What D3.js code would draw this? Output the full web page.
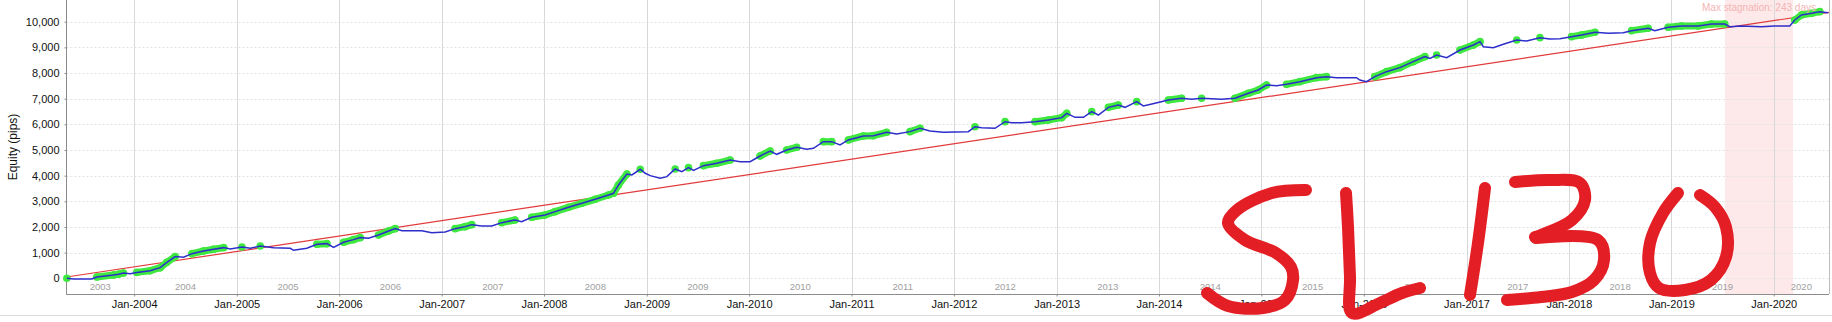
<!DOCTYPE html>
<html><head><meta charset="utf-8">
<script src="https://cdn.jsdelivr.net/npm/d3@7"></script>
<style>html,body{margin:0;padding:0;background:#fff;}svg{display:block;font-family:"Liberation Sans",Arial,sans-serif;}</style>
</head><body>
<svg id="c" width="1832" height="322"></svg>
<script>
// ---- data ----
const startDate = "2003-05-05";
const endDate = "2020-07-16";
const years = [2003.343,2003.408,2003.587,2003.636,2003.798,2003.847,2003.896,2003.961,2004.026,2004.156,2004.254,2004.319,2004.400,2004.481,2004.563,2004.676,2004.774,2004.872,2004.937,2005.050,2005.132,2005.229,2005.359,2005.522,2005.554,2005.684,2005.782,2005.880,2005.945,2006.042,2006.140,2006.205,2006.286,2006.384,2006.482,2006.547,2006.612,2006.807,2006.904,2007.035,2007.132,2007.230,2007.295,2007.392,2007.490,2007.587,2007.717,2007.782,2007.880,2008.010,2008.108,2008.238,2008.368,2008.498,2008.628,2008.677,2008.725,2008.807,2008.856,2008.937,2008.986,2009.034,2009.132,2009.197,2009.278,2009.343,2009.408,2009.457,2009.554,2009.684,2009.815,2009.912,2010.010,2010.107,2010.205,2010.270,2010.367,2010.465,2010.563,2010.628,2010.725,2010.807,2010.888,2010.969,2011.115,2011.213,2011.343,2011.441,2011.571,2011.669,2011.766,2011.896,2012.010,2012.140,2012.205,2012.270,2012.400,2012.498,2012.563,2012.660,2012.790,2012.920,2013.050,2013.099,2013.180,2013.262,2013.343,2013.408,2013.506,2013.603,2013.668,2013.782,2013.847,2013.961,2014.091,2014.221,2014.319,2014.416,2014.611,2014.741,2014.872,2014.969,2015.050,2015.148,2015.245,2015.376,2015.538,2015.636,2015.733,2015.929,2015.961,2016.026,2016.107,2016.221,2016.351,2016.481,2016.595,2016.644,2016.709,2016.807,2016.937,2017.067,2017.132,2017.164,2017.262,2017.359,2017.490,2017.587,2017.717,2017.815,2017.912,2018.026,2018.124,2018.254,2018.384,2018.530,2018.612,2018.774,2018.839,2018.969,2019.099,2019.262,2019.392,2019.522,2019.571,2019.684,2019.879,2020.010,2020.156,2020.205,2020.270,2020.368,2020.449,2020.530];
const equity = [0,-27,-27,50,130,160,207,180,230,297,414,622,845,818,960,1064,1130,1195,1143,1221,1169,1260,1195,1169,1091,1169,1325,1351,1208,1403,1507,1585,1558,1688,1844,1935,1857,1857,1779,1805,1935,2013,2091,2039,2039,2169,2273,2208,2377,2468,2598,2767,2923,3079,3248,3313,3638,4066,4027,4248,4092,4000,3896,3961,4260,4156,4312,4208,4390,4481,4611,4546,4546,4767,4962,4832,5001,5105,5027,5066,5326,5326,5196,5391,5547,5560,5690,5625,5716,5846,5742,5690,5700,5714,5909,5870,5844,6104,6065,6065,6104,6169,6260,6429,6273,6273,6494,6364,6663,6754,6663,6884,6715,6819,6949,7014,6975,7014,6975,7014,7209,7339,7533,7507,7559,7663,7819,7858,7819,7819,7728,7663,7858,8053,8209,8442,8637,8572,8702,8598,8897,9092,9222,9027,8988,9118,9287,9248,9378,9326,9340,9417,9482,9586,9547,9573,9651,9742,9651,9781,9833,9833,9911,9911,9807,9833,9807,9833,9833,10067,10262,10327,10392,10353];
const trendValues = [50, 10365];
const yTicks = [0,1000,2000,3000,4000,5000,6000,7000,8000,9000,10000];
const xTickYears = [2004,2005,2006,2007,2008,2009,2010,2011,2012,2013,2014,2015,2016,2017,2018,2019,2020];
const yearLabels = [2003,2004,2005,2006,2007,2008,2009,2010,2011,2012,2013,2014,2015,2016,2017,2018,2019,2020];
const stagnationStart = "2019-07-11";
const stagnationDays = 243;
const yTitle = "Equity (pips)";

// ---- helpers ----
const parse = d3.timeParse("%Y-%m-%d");
function decToDate(y){const yi=Math.floor(y);const a=new Date(yi,0,1),b=new Date(yi+1,0,1);return new Date(+a+(y-yi)*(b-a));}
const pts = years.map((y,i)=>({d:decToDate(y),v:equity[i]}));

const L=66.5,R=1829,T=0,B=294;
const x = d3.scaleTime().domain([parse(startDate),parse(endDate)]).range([L,R]);
const y = d3.scaleLinear().domain([0,10000]).range([278.3,21.7]);
const svg = d3.select("#c");

// stagnation
const s0 = parse(stagnationStart), s1 = d3.timeDay.offset(s0, stagnationDays);
svg.append("rect").attr("x",x(s0)).attr("y",T).attr("width",x(s1)-x(s0)).attr("height",B-T).attr("fill","#fde9e9");

// grids
svg.append("g").selectAll("line").data(yTicks).join("line")
  .attr("x1",L).attr("x2",R).attr("y1",d=>Math.round(y(d))+0.5).attr("y2",d=>Math.round(y(d))+0.5)
  .attr("stroke","#e2e2e2").attr("stroke-dasharray","2,2");
svg.append("g").selectAll("line").data(xTickYears).join("line")
  .attr("x1",d=>Math.round(x(new Date(d,0,1)))+0.5).attr("x2",d=>Math.round(x(new Date(d,0,1)))+0.5)
  .attr("y1",T).attr("y2",B).attr("stroke","#d8d8d8");

// year labels inside plot
const xd = x.domain();
svg.append("g").selectAll("text").data(yearLabels).join("text")
  .attr("x",d=>{const a=d3.max([new Date(d,0,1),xd[0]]),b=d3.min([new Date(d+1,0,1),xd[1]]);return (x(a)+x(b))/2;})
  .attr("y",289.5).attr("text-anchor","middle").attr("font-size","9.5px").attr("fill","#a0a0a0").text(d=>d);

// axes lines
svg.append("line").attr("x1",L).attr("x2",L).attr("y1",T).attr("y2",B+0.5).attr("stroke","#8c8c8c");
svg.append("line").attr("x1",L).attr("x2",R).attr("y1",B+0.5).attr("y2",B+0.5).attr("stroke","#8c8c8c");
svg.append("line").attr("x1",R+0.5).attr("x2",R+0.5).attr("y1",T).attr("y2",B).attr("stroke","#bdbdbd");

// y axis
const ya = svg.append("g").attr("transform",`translate(${L},0)`).call(d3.axisLeft(y).tickValues(yTicks).tickFormat(d3.format(",")).tickSize(2).tickPadding(5));
ya.select(".domain").remove();
ya.selectAll("line").attr("stroke","#8c8c8c");
ya.selectAll("text").attr("font-size","11px").attr("fill","#111").attr("font-family","Liberation Sans, Arial, sans-serif");

// x axis
const xa = svg.append("g").attr("transform",`translate(0,${B+0.5})`).call(d3.axisBottom(x).tickValues(xTickYears.map(d=>new Date(d,0,1))).tickFormat(d3.timeFormat("%b-%Y")).tickSize(2).tickPadding(4));
xa.select(".domain").remove();
xa.selectAll("line").attr("stroke","#8c8c8c");
xa.selectAll("text").attr("font-size","11px").attr("fill","#111").attr("font-family","Liberation Sans, Arial, sans-serif");

// y title
svg.append("text").attr("transform",`translate(17,${(T+B)/2}) rotate(-90)`).attr("text-anchor","middle")
  .attr("font-size","12px").attr("fill","#111").text(yTitle);

// bottom panel line
svg.append("line").attr("x1",0).attr("x2",1832).attr("y1",315.5).attr("y2",315.5).attr("stroke","#dcdcdc");

// trend line
svg.append("line").attr("x1",x(xd[0])).attr("y1",y(trendValues[0])).attr("x2",x(xd[1])).attr("y2",y(trendValues[1]))
  .attr("stroke","#e23a3a").attr("stroke-width",1.2);

// new highs
let mx=-Infinity; pts.forEach(p=>{p.hi = p.v>=mx; if(p.v>mx) mx=p.v;});
const gG = svg.append("g");
for(let i=1;i<pts.length;i++){ if(pts[i].hi && pts[i-1].hi){
  gG.append("line").attr("x1",x(pts[i-1].d)).attr("y1",y(pts[i-1].v)).attr("x2",x(pts[i].d)).attr("y2",y(pts[i].v))
    .attr("stroke","#3ee83e").attr("stroke-width",7).attr("stroke-linecap","round");}}
gG.selectAll("circle").data(pts.filter(p=>p.hi)).join("circle").attr("cx",p=>x(p.d)).attr("cy",p=>y(p.v)).attr("r",3.8).attr("fill","#3ee83e");

// equity line
svg.append("path").datum(pts).attr("fill","none").attr("stroke","#2d2dcc").attr("stroke-width",1.5)
  .attr("d",d3.line().x(p=>x(p.d)).y(p=>y(p.v)));

// stagnation label
svg.append("text").attr("x",(x(s0)+x(s1))/2).attr("y",11).attr("text-anchor","middle").attr("font-size","10px")
  .attr("fill","#f3b4b4").text(`Max stagnation: ${stagnationDays} days`);

// hand-drawn annotation strokes
const ink = [
 [[1306,190],[1272,193],[1237,210],[1228,223],[1245,240],[1276,253],[1291,267],[1293,280],[1285,300],[1263,308],[1228,306],[1207,293]],
 [[1346,193],[1348,227],[1350,277],[1352,313],[1380,303],[1402,293],[1420,288]],
 [[1485,188],[1478,243],[1470,295]],
 [[1515,182],[1550,180],[1580,183],[1585,200],[1572,220],[1541,235],[1535,237]],
 [[1536,238],[1598,240],[1604,260],[1594,280],[1572,292],[1541,297],[1507,300]],
 [[1678,193],[1663,213],[1650,243],[1650,273],[1659,288],[1685,290],[1711,280],[1726,257],[1726,227],[1715,207],[1700,195]]
];
const il = d3.line().curve(d3.curveCatmullRom.alpha(0.5));
svg.append("g").selectAll("path").data(ink).join("path").attr("d",il).attr("fill","none")
  .attr("stroke","#e31e24").attr("stroke-width",12).attr("stroke-linecap","round").attr("stroke-linejoin","round");
</script>
</body></html>
